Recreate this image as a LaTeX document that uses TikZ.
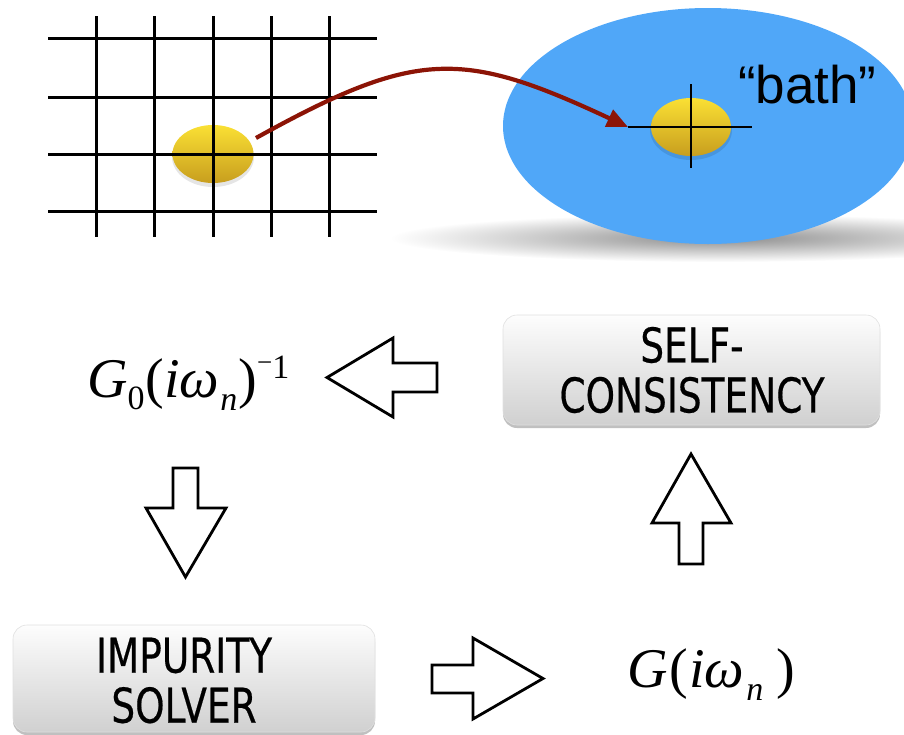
\documentclass[tikz,border=0pt]{standalone}
\usepackage{fontspec}
\setmainfont{Liberation Serif}
\newfontfamily\boxfont[FakeStretch=0.78,FakeBold=0.4]{DejaVu Sans}
\newfontfamily\bathfont{Liberation Sans}
\usetikzlibrary{arrows.meta,shadows}
\definecolor{bathblue}{RGB}{80,167,248}
\definecolor{ytop}{RGB}{250,224,52}
\definecolor{ybot}{RGB}{200,158,30}
\definecolor{darkred}{RGB}{140,20,6}
\definecolor{boxtop}{RGB}{253,253,253}
\definecolor{boxbot}{RGB}{208,208,208}
\begin{document}
\begin{tikzpicture}[x=1pt,y=-1pt,
  gridline/.style={line width=3pt,black},
  crossline/.style={line width=2.5pt,black},
  blob/.style={top color=ytop,bottom color=ybot},
  blobshadow/.style={fill=black,opacity=0.10},
  stepbox/.style={rounded corners=14pt, top color=boxtop, bottom color=boxbot,
    draw=black!12, line width=0.6pt, inner sep=0pt,
    drop shadow={shadow xshift=0pt,shadow yshift=-3pt,opacity=0.45,fill=black!55}},
  boxtext/.style={font=\boxfont\fontsize{48}{50}\selectfont, align=center, inner sep=0pt},
  blockarrow/.style={draw=black, fill=white, line width=2.8pt, line join=miter},
  mathtext/.style={inner sep=0pt, anchor=base west, font=\fontsize{56}{56}\selectfont},
  linkarrow/.style={darkred, line width=4.2pt, -{Triangle[length=21pt,width=18pt]}}
]
\useasboundingbox (0,0) rectangle (904,734);
\clip (0,0) rectangle (904,734);

% bath: shadow and ellipse
\shade[inner color=black!45, outer color=white] (720,238) ellipse (330 and 24);
\fill[bathblue] (708,126) ellipse (205 and 118);
\fill[blobshadow] (691,130) ellipse (41 and 30);
\shade[blob] (691,127) ellipse (40 and 29);
\draw[crossline] (628,127) -- (752,127);
\draw[crossline] (691,84) -- (691,168);
\node[anchor=base west, inner sep=0pt, font=\bathfont\fontsize{53}{53}\selectfont] (bath) at (738,103) {“bath”};

% lattice
\fill[blobshadow] (213,157) ellipse (41 and 30);
\shade[blob] (213,154) ellipse (40.5 and 29);
\foreach \yy in {38,97,154,211} \draw[gridline] (48,\yy) -- (377,\yy);
\foreach \xx in {96,154,213,271,329} \draw[gridline] (\xx,16) -- (\xx,237);

% link arrow
\coordinate (src) at (256,138);
\coordinate (dst) at (628,127);
\draw[linkarrow] (src) .. controls (416.6,49) and (462,49.4) .. (dst);

% boxes
\node[stepbox, minimum width=377pt, minimum height=110pt] (scbox) at (691.5,370) {};
\node[boxtext] (sctext) at (692,370) {SELF-\\CONSISTENCY};
\node[stepbox, minimum width=362pt, minimum height=107pt] (isbox) at (194,678.5) {};
\node[boxtext] (istext) at (184,680.5) {IMPURITY\\SOLVER};

% formulas
\node[mathtext] (gzero) at (87,397) {\textit{G}\lower12pt\hbox{\fontsize{34}{34}\selectfont 0}\kern1pt(\textit{iω}\kern1pt\lower13pt\hbox{\fontsize{34}{34}\selectfont\itshape n}\kern1pt)\raise26pt\hbox{\fontsize{27}{27}\selectfont −}\raise19pt\hbox{\fontsize{34}{34}\selectfont 1}};
\node[mathtext] (gfull) at (627,687) {\textit{G}\kern2pt(\kern1pt\textit{iω}\kern2pt\lower13pt\hbox{\fontsize{34}{34}\selectfont\itshape n}\kern13pt)};

% block arrows
\draw[blockarrow] (327,377.5) -- (393,338) -- (393,363) -- (437,363) -- (437,392) -- (393,392) -- (393,417) -- cycle;
\draw[blockarrow] (543,678.5) -- (473,638) -- (473,665) -- (432,665) -- (432,693) -- (473,693) -- (473,719) -- cycle;
\draw[blockarrow] (185.5,577) -- (146,508) -- (173,508) -- (173,468) -- (198,468) -- (198,508) -- (226,508) -- cycle;
\draw[blockarrow] (691,454) -- (652,523) -- (679,523) -- (679,564) -- (703,564) -- (703,523) -- (731,523) -- cycle;
\end{tikzpicture}
\end{document}
